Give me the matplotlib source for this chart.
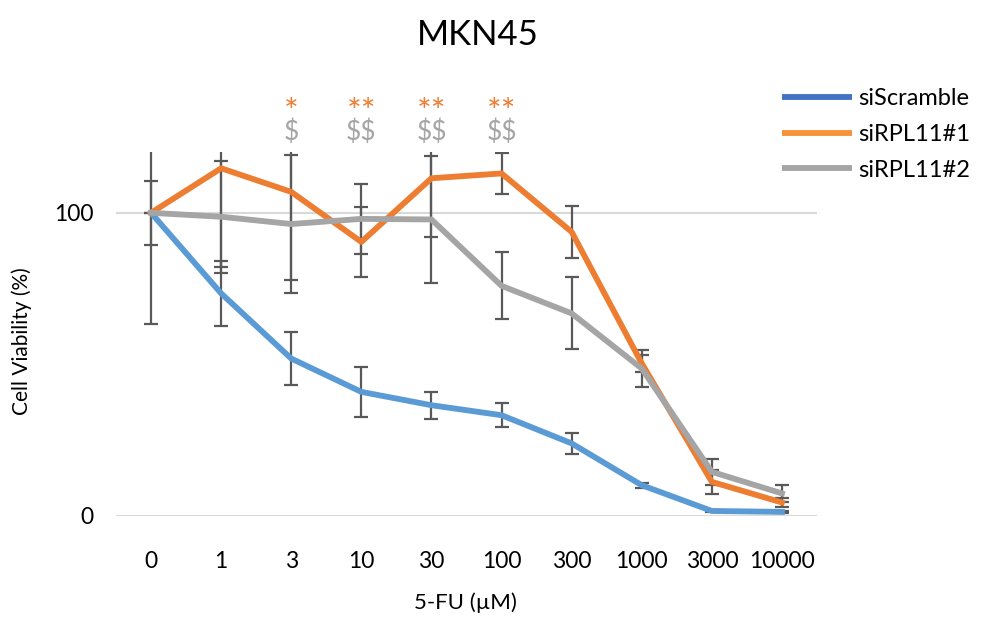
import numpy as np
import matplotlib
matplotlib.use("Agg")
import matplotlib.pyplot as plt
from matplotlib.lines import Line2D

plt.rcParams['font.family'] = ['Lato', 'DejaVu Sans']

doses = ['0', '1', '3', '10', '30', '100', '300', '1000', '3000', '10000']

scramble = [100, 73.4, 51.9, 40.9, 36.5, 33.2, 23.9, 10.1, 1.6, 1.3]
scramble_sd = [0, 10.8, 8.8, 8.3, 4.4, 4.0, 3.5, 0.8, 0.3, 0.3]

rpl1 = [100, 114.7, 106.9, 90.4, 111.4, 113.0, 93.7, 50.3, 11.2, 4.4]
rpl1_sd = [36.8, 32.5, 29.1, 11.6, 19.5, 6.9, 8.5, 2.7, 4.0, 1.5]

rpl2 = [100, 98.7, 96.3, 98.0, 97.8, 75.9, 66.8, 48.6, 14.5, 7.4]
rpl2_sd = [10.5, 18.5, 22.7, 11.5, 20.8, 11.1, 11.9, 6.0, 4.4, 2.7]

# significance marks: index into doses, text
star_marks = {2: '*', 3: '**', 4: '**', 5: '**'}
dollar_marks = {2: '$', 3: '$$', 4: '$$', 5: '$$'}

series = [
    ('siScramble', scramble, scramble_sd, '#5B9BD5', '#4472C4'),
    ('siRPL11#1', rpl1, rpl1_sd, '#ED7D31', '#F7923A'),
    ('siRPL11#2', rpl2, rpl2_sd, '#A5A5A5', '#A5A5A5'),
]

fig = plt.figure(figsize=(10, 6.17), dpi=100)
ax = fig.add_axes([0.116, 0.164, 0.701, 0.5893])

x = np.arange(len(doses))
handles = []
for i, (name, vals, sd, col, legcol) in enumerate(series):
    ax.errorbar(x, vals, yerr=sd, fmt='none', ecolor='#595959',
                elinewidth=1.6, capsize=5, capthick=1.6, zorder=2 + i * 0.1)
    ax.plot(x, vals, color=col, lw=4.2, solid_joinstyle='round', zorder=3 + i)
    handles.append(Line2D([0], [0], color=legcol, lw=4.2, solid_capstyle='butt'))

ax.set_xlim(-0.5, len(doses) - 0.5)
ax.set_ylim(0, 120)
ax.set_yticks([0, 100])
ax.set_xticks(x)
ax.set_xticklabels(doses)
ax.tick_params(axis='both', length=0, labelsize=16.5, colors='#000000')
ax.tick_params(axis='x', pad=25)
ax.tick_params(axis='y', pad=16)
ax.yaxis.grid(True, color='#D9D9D9', lw=1.5)
ax.set_axisbelow(True)
for s in ax.spines.values():
    s.set_visible(False)

ax.set_ylabel('Cell Viability (%)', fontsize=15)
ax.yaxis.set_label_coords(-0.12, 0.48)
ax.set_xlabel('5-FU (\u00b5M)', fontsize=16)
ax.xaxis.set_label_coords(0.498, -0.212)

# significance symbols sit above the plot area
for k, t in star_marks.items():
    ax.text(k, 133, t, color='#ED7D31', fontsize=25, ha='center',
            va='center', clip_on=False, parse_math=False)
for k, t in dollar_marks.items():
    ax.text(k, 126.5, t, color='#A5A5A5', fontsize=19, ha='center',
            va='center', clip_on=False, parse_math=False)

fig.text(0.478, 0.943, 'MKN45', fontsize=25, ha='center', va='center')

fig.legend(handles, [s[0] for s in series], loc='upper left',
           bbox_to_anchor=(0.773, 0.872), frameon=False, fontsize=17,
           handlelength=2.95, handletextpad=0.25, labelspacing=0.62,
           borderaxespad=0)

fig.savefig('out.png', dpi=100)
